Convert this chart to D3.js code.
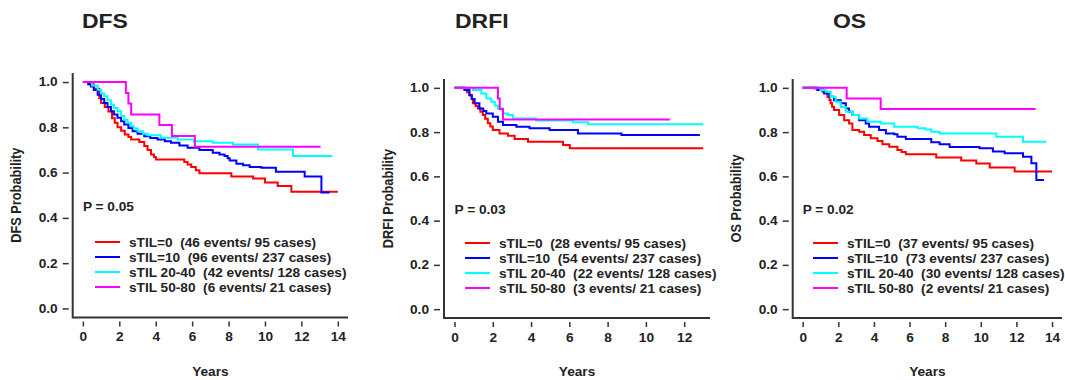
<!DOCTYPE html>
<meta charset="utf-8">
<style>
body {
  margin: 0;
  background: #fff;
}
text {
  font-family: "Liberation Sans", Arial, Helvetica, sans-serif;
  font-weight: bold;
  fill: #222;
}
.tick line {
  stroke: #333;
  stroke-width: 1.5;
}
.frame {
  stroke: #333;
  stroke-width: 2;
  fill: none;
}
.km {
  fill: none;
  stroke-width: 2;
}
</style>
<body>
<script src="https://cdn.jsdelivr.net/npm/d3@7"></script>
<script>

var width = 1065,
    height = 380;

// groups and colours
var groups = ["sTIL=0", "sTIL=10", "sTIL 20-40", "sTIL 50-80"];
var colors = ["#ff0000", "#0000ff", "#00ffff", "#ff00ff"];
var cases = [95, 237, 128, 21];
var dfsEvents = [46, 96, 42, 6];
var drfiEvents = [28, 54, 22, 3];
var osEvents = [37, 73, 30, 2];

// KM steps: [year, survival after the step]
var dfsTil0 = [[0,1],[0.3,0.99],[0.6,0.97],[0.9,0.93],[1.0,0.907],[1.2,0.89],[1.4,0.87],[1.6,0.84],[1.75,0.82],[1.9,0.8],[2.1,0.785],[2.3,0.768],[2.5,0.757],[2.65,0.746],[3.1,0.735],[3.37,0.717],[3.55,0.7],[3.74,0.68],[3.9,0.669],[4.01,0.658],[5.57,0.647],[5.75,0.636],[5.95,0.625],[6.2,0.61],[6.4,0.597],[8.15,0.583],[9.35,0.574],[10.0,0.556],[10.7,0.541],[11.45,0.516],[14.0,0.516]];
var dfsTil10 = [[0,1],[0.3,0.99],[0.44,0.98],[0.6,0.965],[0.81,0.944],[1.0,0.925],[1.17,0.907],[1.35,0.89],[1.54,0.871],[1.7,0.857],[1.9,0.842],[2.1,0.827],[2.27,0.812],[2.5,0.797],[2.73,0.783],[3.0,0.772],[3.37,0.761],[3.7,0.753],[4.1,0.746],[4.5,0.739],[4.84,0.732],[5.3,0.72],[5.75,0.71],[6.4,0.7],[7.13,0.688],[7.5,0.68],[7.78,0.673],[7.95,0.663],[8.06,0.654],[8.43,0.639],[8.8,0.632],[9.16,0.625],[9.8,0.622],[10.6,0.604],[12.18,0.583],[13.1,0.512],[13.55,0.512]];
var dfsTil2040 = [[0,1],[0.5,0.985],[0.81,0.966],[1.0,0.95],[1.17,0.937],[1.35,0.92],[1.54,0.9],[1.7,0.885],[1.9,0.871],[2.1,0.85],[2.27,0.834],[2.45,0.82],[2.64,0.805],[2.8,0.795],[3.0,0.783],[3.3,0.772],[3.55,0.765],[4.28,0.754],[5.2,0.746],[6.1,0.739],[7.13,0.732],[8.24,0.724],[9.62,0.702],[11.54,0.673],[13.7,0.673]];
var dfsTil5080 = [[0,1],[2.36,0.952],[2.5,0.905],[2.65,0.857],[4.2,0.81],[4.89,0.762],[6.15,0.714],[13.05,0.714]];

var drfiTil0 = [[0,1],[0.52,0.994],[0.65,0.98],[0.78,0.967],[0.9,0.95],[0.96,0.93],[1.1,0.918],[1.22,0.907],[1.35,0.892],[1.48,0.877],[1.6,0.86],[1.74,0.84],[1.87,0.825],[2.0,0.81],[2.35,0.794],[2.79,0.784],[3.14,0.769],[3.84,0.757],[5.67,0.742],[6.02,0.727],[13.0,0.727]];
var drfiTil10 = [[0,1],[0.52,0.99],[0.78,0.967],[0.9,0.95],[1.05,0.93],[1.3,0.907],[1.5,0.895],[1.66,0.884],[2.0,0.869],[2.27,0.847],[2.53,0.832],[3.23,0.824],[3.92,0.817],[4.97,0.809],[6.45,0.794],[8.72,0.787],[12.82,0.787]];
var drfiTil2040 = [[0,1],[0.96,0.99],[1.4,0.974],[1.66,0.952],[1.92,0.937],[2.1,0.92],[2.27,0.907],[2.53,0.884],[2.79,0.877],[3.05,0.862],[4.27,0.852],[6.19,0.845],[6.98,0.835],[13.0,0.835]];
var drfiTil5080 = [[0,1],[2.27,0.952],[2.36,0.905],[2.53,0.857],[11.25,0.857]];

var osTil0 = [[0,1],[0.64,0.997],[1.11,0.982],[1.39,0.959],[1.5,0.945],[1.57,0.93],[1.65,0.915],[1.76,0.9],[2.05,0.877],[2.33,0.854],[2.61,0.839],[2.79,0.809],[3.17,0.802],[3.45,0.787],[3.82,0.772],[4.2,0.76],[4.48,0.745],[4.86,0.734],[5.32,0.719],[5.55,0.71],[5.79,0.7],[7.5,0.685],[8.9,0.672],[9.75,0.658],[10.5,0.64],[11.9,0.622],[14.0,0.622]];
var osTil10 = [[0,1],[0.83,0.99],[1.2,0.974],[1.5,0.96],[1.76,0.944],[2.14,0.93],[2.42,0.907],[2.6,0.892],[2.79,0.877],[3.17,0.854],[3.54,0.839],[3.73,0.824],[4.29,0.809],[4.67,0.794],[5.14,0.79],[5.32,0.779],[5.79,0.769],[7.22,0.754],[7.69,0.745],[8.25,0.733],[9.93,0.727],[10.68,0.712],[11.34,0.704],[12.37,0.689],[12.84,0.659],[13.12,0.584],[13.55,0.584]];
var osTil2040 = [[0,1],[1.0,0.99],[1.29,0.982],[1.57,0.959],[1.85,0.937],[2.14,0.914],[2.42,0.892],[2.79,0.877],[3.17,0.862],[3.63,0.847],[4.39,0.839],[5.14,0.824],[6.45,0.817],[6.9,0.812],[7.22,0.802],[7.69,0.794],[10.87,0.779],[12.37,0.757],[13.68,0.757]];
var osTil5080 = [[0,1],[2.47,0.952],[4.38,0.905],[13.08,0.905]];

var yTicks = [0, 0.2, 0.4, 0.6, 0.8, 1.0];

var panels = [
  {title: "DFS", ylab: "DFS Probability", p: "P = 0.05", events: dfsEvents,
   curves: [dfsTil0, dfsTil10, dfsTil2040, dfsTil5080], xTicks: d3.range(0, 15, 2),
   xDomain: [-0.56, 14.56], box: {l: 72.7, r: 348, t: 73, b: 317.5},
   titleX: 82, ylabX: 21, legX: 95, legY: 242},
  {title: "DRFI", ylab: "DRFI Probability", p: "P = 0.03", events: drfiEvents,
   curves: [drfiTil0, drfiTil10, drfiTil2040, drfiTil5080], xTicks: d3.range(0, 13, 2),
   xDomain: [-0.55, 13.35], box: {l: 444, r: 710, t: 79, b: 318},
   titleX: 455, ylabX: 393, legX: 465, legY: 243},
  {title: "OS", ylab: "OS Probability", p: "P = 0.02", events: osEvents,
   curves: [osTil0, osTil10, osTil2040, osTil5080], xTicks: d3.range(0, 15, 2),
   xDomain: [-0.56, 14.56], box: {l: 792.7, r: 1062, t: 79, b: 318},
   titleX: 833, ylabX: 741, legX: 813, legY: 243}
];

var sx = 1.12; // the figure is a bit wider than tall
var fs = 12.2;
var nb = "\u00a0";

var svg = d3.select("body").append("svg")
    .attr("width", width)
    .attr("height", height);

function label(g, x, y, str, size, anchor) {
  return g.append("text")
    .attr("transform", "translate(" + x + "," + y + ") scale(" + sx + ",1)")
    .attr("text-anchor", anchor || "start")
    .style("font-size", size + "px")
    .text(str);
}

panels.forEach(function(p) {
  var b = p.box;
  var g = svg.append("g");

  var x = d3.scaleLinear().domain(p.xDomain).range([b.l, b.r]);
  var y = d3.scaleLinear().domain([-0.04, 1.04]).range([b.b, b.t]);

  // frame (L shaped)
  g.append("path")
    .attr("class", "frame")
    .attr("d", "M" + b.l + "," + b.t + "V" + b.b + "H" + b.r);

  var yAxis = g.append("g")
    .attr("transform", "translate(" + (b.l - 4) + ",0)")
    .call(d3.axisLeft(y).tickValues(yTicks).tickFormat(d3.format(".1f")).tickSize(6).tickPadding(5));
  yAxis.select(".domain").remove();
  yAxis.selectAll("text")
    .style("font-size", fs + "px")
    .attr("transform", "scale(" + sx + ",1)")
    .attr("x", -11 / sx);

  var xAxis = g.append("g")
    .attr("transform", "translate(0," + (b.b + 4) + ")")
    .call(d3.axisBottom(x).tickValues(p.xTicks).tickSize(5).tickPadding(6));
  xAxis.select(".domain").remove();
  xAxis.selectAll("text")
    .style("font-size", fs + "px")
    .attr("transform", "scale(" + sx + ",1)");

  // curves
  var line = d3.line()
    .x(function(d) { return x(d[0]); })
    .y(function(d) { return y(d[1]); })
    .curve(d3.curveStepAfter);

  g.selectAll(".km")
    .data(p.curves)
    .join("path")
    .attr("class", "km")
    .attr("stroke", function(d, i) { return colors[i]; })
    .attr("d", line);

  // titles
  label(g, p.titleX, 28, p.title, 20.5);
  label(g, (b.l + b.r) / 2, 376, "Years", fs, "middle");
  g.append("text")
    .attr("transform", "translate(" + p.ylabX + "," + ((b.t + b.b) / 2) + ") rotate(-90) scale(1," + sx + ")")
    .attr("text-anchor", "middle")
    .style("font-size", "12.8px")
    .text(p.ylab);

  label(g, x(0), y(0.43), p.p, fs);

  // legend
  groups.forEach(function(name, i) {
    var ly = p.legY + i * 15;
    g.append("line")
      .attr("x1", p.legX).attr("x2", p.legX + 25)
      .attr("y1", ly).attr("y2", ly)
      .attr("stroke", colors[i])
      .attr("stroke-width", 2);
    label(g, p.legX + 34, ly + 4.5, name + nb + nb + "(" + p.events[i] + " events/ " + cases[i] + " cases)", fs);
  });
});

</script>
